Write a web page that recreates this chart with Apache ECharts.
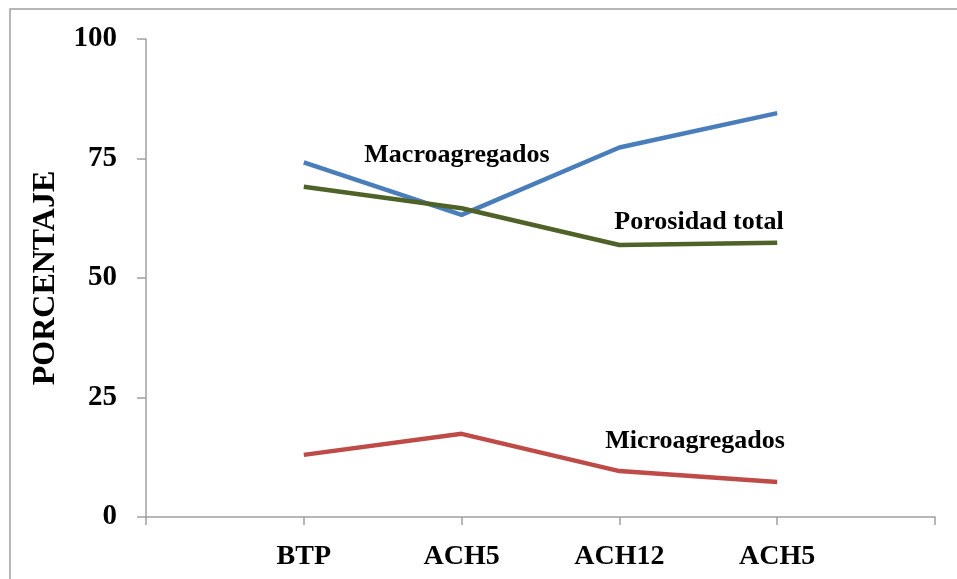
<!DOCTYPE html>
<html>
<head>
<meta charset="utf-8">
<script src="https://cdn.jsdelivr.net/npm/echarts@6/dist/echarts.min.js"></script>
<style>html,body{margin:0;padding:0;background:#fff;}#c{width:957px;height:579px;}</style>
</head>
<body>
<div id="c"></div>
<script>
var categories = ['', 'BTP', 'ACH5', 'ACH12', 'ACH5', ''];
var macroagregados = [null, 74.2, 63.2, 77.3, 84.5, null];
var porosidadTotal = [null, 69.1, 64.6, 56.9, 57.4, null];
var microagregados = [null, 13.0, 17.4, 9.6, 7.3, null];
var yTicks = [0, 25, 50, 75, 100];

var chart = echarts.init(document.getElementById('c'), null, {renderer: 'canvas'});
var serif = '"Liberation Serif", "Times New Roman", serif';
var axisColor = '#a0a0a0';
chart.setOption({
  animation: false,
  backgroundColor: '#ffffff',
  grid: {left: 146, right: 22, top: 39, bottom: 62, containLabel: false},
  xAxis: {
    type: 'category',
    data: categories,
    boundaryGap: false,
    axisLine: {lineStyle: {color: axisColor, width: 1.5}},
    axisTick: {show: true, length: 8, lineStyle: {color: axisColor, width: 1.5}},
    axisLabel: {color: '#000', fontFamily: serif, fontWeight: 'bold', fontSize: 28, margin: 26},
    splitLine: {show: false}
  },
  yAxis: {
    type: 'value',
    min: yTicks[0],
    max: yTicks[yTicks.length - 1],
    interval: 25,
    name: 'PORCENTAJE',
    nameLocation: 'middle',
    nameRotate: 90,
    nameGap: 84,
    nameTextStyle: {color: '#000', fontFamily: serif, fontWeight: 'bold', fontSize: 32},
    axisLine: {show: true, lineStyle: {color: axisColor, width: 1.5}},
    axisTick: {show: true, length: 9, lineStyle: {color: axisColor, width: 1.5}},
    axisLabel: {color: '#000', fontFamily: serif, fontWeight: 'bold', fontSize: 29, margin: 29},
    splitLine: {show: false}
  },
  series: [
    {name: 'Macroagregados', type: 'line', data: macroagregados, symbol: 'none',
     lineStyle: {color: '#4a7ebb', width: 4.5}, itemStyle: {color: '#4a7ebb'}},
    {name: 'Porosidad total', type: 'line', data: porosidadTotal, symbol: 'none',
     lineStyle: {color: '#4f6228', width: 4.5}, itemStyle: {color: '#4f6228'}},
    {name: 'Microagregados', type: 'line', data: microagregados, symbol: 'none',
     lineStyle: {color: '#be4b48', width: 4.5}, itemStyle: {color: '#be4b48'}}
  ],
  graphic: [
    {type: 'rect', shape: {x: 10, y: 9, width: 1200, height: 1200}, silent: true,
     style: {fill: 'none', stroke: '#a0a0a0', lineWidth: 1.5}},
    {type: 'text', x: 457, y: 155, silent: true,
     style: {text: 'Macroagregados', fill: '#000', font: 'bold 26px ' + serif, textAlign: 'center', textVerticalAlign: 'middle'}},
    {type: 'text', x: 699, y: 222, silent: true,
     style: {text: 'Porosidad total', fill: '#000', font: 'bold 26px ' + serif, textAlign: 'center', textVerticalAlign: 'middle'}},
    {type: 'text', x: 695, y: 441, silent: true,
     style: {text: 'Microagregados', fill: '#000', font: 'bold 26px ' + serif, textAlign: 'center', textVerticalAlign: 'middle'}}
  ]
});
</script>
</body>
</html>
